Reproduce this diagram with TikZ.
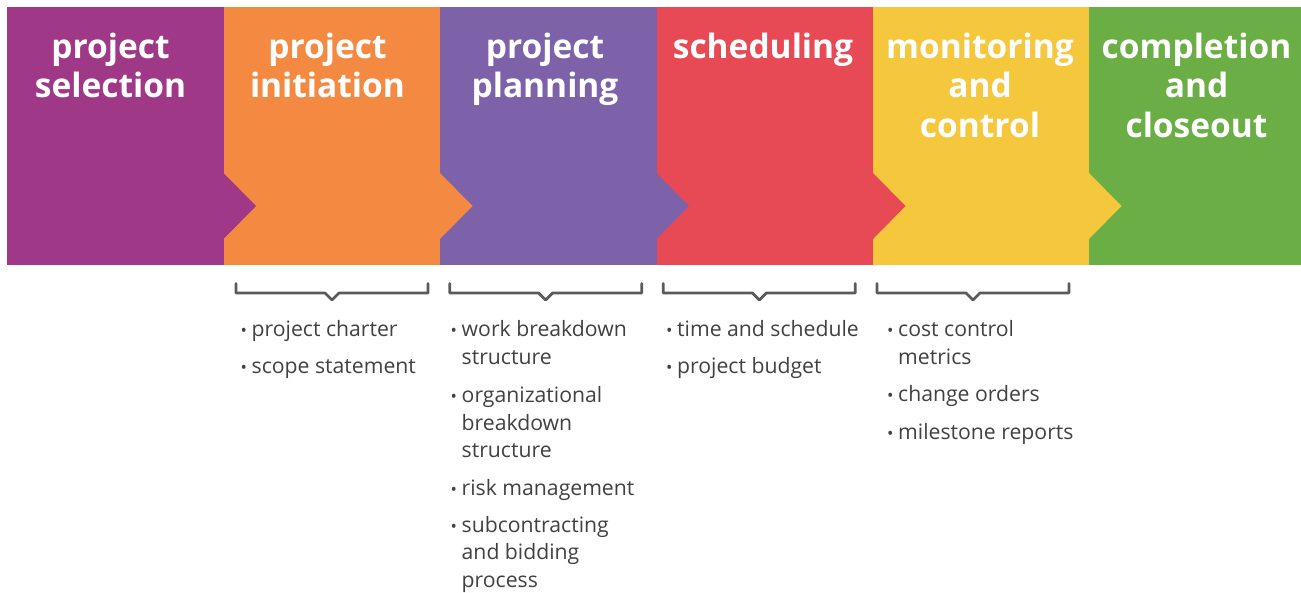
\documentclass[tikz,border=0pt]{standalone}
\usepackage{fontspec}
\setmainfont{Open Sans}
\definecolor{cPurple}{HTML}{9F3886}
\definecolor{cOrange}{HTML}{F48A42}
\definecolor{cViolet}{HTML}{7D62AA}
\definecolor{cRed}{HTML}{E84A55}
\definecolor{cYellow}{HTML}{F5C73D}
\definecolor{cGreen}{HTML}{6AAE45}
\definecolor{cText}{HTML}{414042}
\definecolor{cBrace}{HTML}{5A5A5C}
\newcommand{\itm}{\makebox[11pt][l]{\scalebox{0.8}{•}}}
\newcommand{\ind}{\hspace*{11pt}}
\begin{document}
\begin{tikzpicture}[x=1pt,y=-1pt,
  hdr/.style={anchor=base,inner sep=0pt,text=white,font=\fontsize{33.5}{39.5}\selectfont\bfseries},
  itembox/.style={anchor=base west,inner sep=0pt,text=cText,font=\fontsize{21.2}{27.5}\selectfont},
  bracebox/.style={draw=cBrace,line width=2.8pt,line join=round,line cap=round}]
\useasboundingbox (0,0) rectangle (1301,592);
% columns
\fill[cPurple] (7,7) rectangle (223.5,265);
\fill[cOrange] (223.5,7) rectangle (440,265);
\fill[cViolet] (440,7) rectangle (656.5,265);
\fill[cRed] (656.5,7) rectangle (873,265);
\fill[cYellow] (873,7) rectangle (1089,265);
\fill[cGreen] (1089,7) rectangle (1301,265);
% arrow points
\fill[cPurple] (223.5,173) -- (256,206) -- (223.5,239) -- cycle;
\fill[cOrange] (440,173) -- (472.5,206) -- (440,239) -- cycle;
\fill[cViolet] (656.5,173) -- (689,206) -- (656.5,239) -- cycle;
\fill[cRed] (873,173) -- (905.5,206) -- (873,239) -- cycle;
\fill[cYellow] (1089,173) -- (1121.5,206) -- (1089,239) -- cycle;
% headers
\node[hdr] (h1) at (110.5,58) {\begin{tabular}[t]{@{}c@{}}project\\selection\end{tabular}};
\node[hdr] (h2) at (327.5,58) {\begin{tabular}[t]{@{}c@{}}project\\initiation\end{tabular}};
\node[hdr] (h3) at (545,58) {\begin{tabular}[t]{@{}c@{}}project\\planning\end{tabular}};
\node[hdr] (h4) at (763,58) {\begin{tabular}[t]{@{}c@{}}scheduling\end{tabular}};
\node[hdr] (h5) at (980,58) {\begin{tabular}[t]{@{}c@{}}monitoring\\and\\control\end{tabular}};
\node[hdr] (h6) at (1196.5,58) {\begin{tabular}[t]{@{}c@{}}completion\\and\\closeout\end{tabular}};
% brackets
\foreach \xl/\xc/\xr in {236/332/428, 449.7/545.7/641.7, 663.3/759.3/855.3, 877/973/1069}{
  \draw[bracebox] (\xl,283.5) -- (\xl,293) -- (\xc-7,293) -- (\xc,300) -- (\xc+7,293) -- (\xr,293) -- (\xr,283.5);
}
% items column 2
\node[itembox] (a1) at (240.5,336.5) {\itm project charter};
\node[itembox] (a2) at (240.5,373.5) {\itm scope statement};
% items column 3
\node[itembox] (b1) at (450.5,336.5) {\begin{tabular}[t]{@{}l@{}}\itm work breakdown\\\ind structure\end{tabular}};
\node[itembox] (b2) at (450.5,402.5) {\begin{tabular}[t]{@{}l@{}}\itm organizational\\\ind breakdown\\\ind structure\end{tabular}};
\node[itembox] (b3) at (450.5,495) {\itm risk management};
\node[itembox] (b4) at (450.5,532) {\begin{tabular}[t]{@{}l@{}}\itm subcontracting\\\ind and bidding\\\ind process\end{tabular}};
% items column 4
\node[itembox] (c1) at (666,336.5) {\itm time and schedule};
\node[itembox] (c2) at (666,373.5) {\itm project budget};
% items column 5
\node[itembox] (d1) at (887,336.5) {\begin{tabular}[t]{@{}l@{}}\itm cost control\\\ind metrics\end{tabular}};
\node[itembox] (d2) at (887,401.5) {\itm change orders};
\node[itembox] (d3) at (887,439) {\itm milestone reports};
\end{tikzpicture}
\end{document}
